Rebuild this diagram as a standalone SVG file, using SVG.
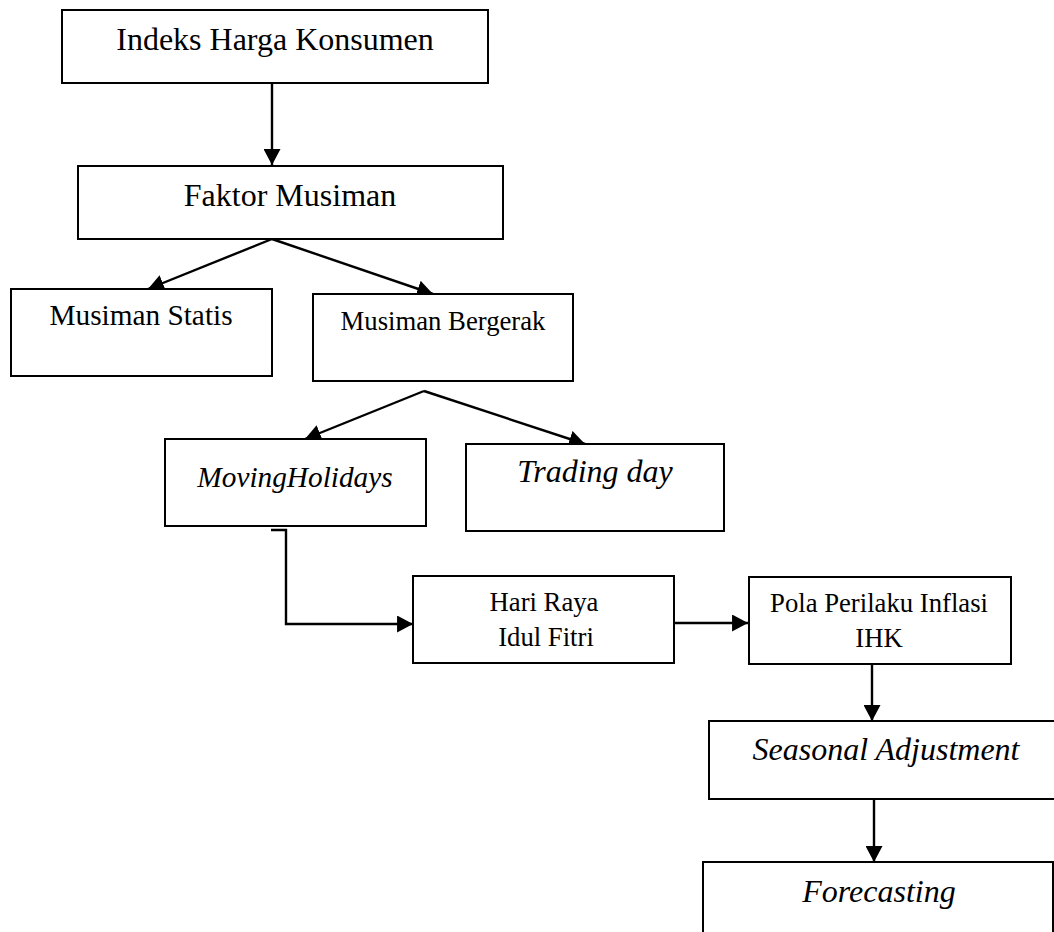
<svg xmlns="http://www.w3.org/2000/svg" width="1054" height="932" viewBox="0 0 1054 932">
<style>
.box{fill:#fff;stroke:#000;stroke-width:2}
.t{font-family:"Liberation Serif","Times New Roman",serif;fill:#000;text-anchor:middle}
.i{font-style:italic}
.c{fill:none;stroke:#000;stroke-width:2.4}
</style>
<defs>
<marker id="ah" markerUnits="userSpaceOnUse" markerWidth="17" markerHeight="17" refX="15" refY="8" orient="auto" viewBox="0 0 16 16">
<path d="M0,0 L15,8 L0,16 Z" fill="#000"/>
</marker>
</defs>
<rect width="1054" height="932" fill="#fff"/>
<g id="connectors">
<line class="c" x1="272" y1="83" x2="272" y2="165" marker-end="url(#ah)"/>
<line class="c" x1="272" y1="239" x2="148" y2="289" marker-end="url(#ah)"/>
<line class="c" x1="272" y1="239" x2="433" y2="294" marker-end="url(#ah)"/>
<line class="c" x1="424" y1="391" x2="305" y2="439" marker-end="url(#ah)"/>
<line class="c" x1="424" y1="391" x2="585" y2="444" marker-end="url(#ah)"/>
<polyline class="c" points="271,530 286,530 286,624 413,624" marker-end="url(#ah)"/>
<line class="c" x1="674" y1="623" x2="748" y2="623" marker-end="url(#ah)"/>
<line class="c" x1="872" y1="664" x2="872" y2="721" marker-end="url(#ah)"/>
<line class="c" x1="874" y1="799" x2="874" y2="862" marker-end="url(#ah)"/>
</g>
<g id="ihk">
<rect class="box" x="62" y="10" width="426" height="73"/>
<text class="t" x="275" y="50" font-size="32">Indeks Harga Konsumen</text>
</g>
<g id="faktor">
<rect class="box" x="78" y="166" width="425" height="73"/>
<text class="t" x="290" y="206" font-size="32">Faktor Musiman</text>
</g>
<g id="statis">
<rect class="box" x="11" y="289" width="261" height="87"/>
<text class="t" x="141" y="325" font-size="29.3">Musiman Statis</text>
</g>
<g id="bergerak">
<rect class="box" x="313" y="294" width="260" height="87"/>
<text class="t" x="443" y="330" font-size="26.7">Musiman Bergerak</text>
</g>
<g id="moving">
<rect class="box" x="165" y="439" width="261" height="87"/>
<text class="t i" x="295" y="487" font-size="29.3">MovingHolidays</text>
</g>
<g id="trading">
<rect class="box" x="466" y="444" width="258" height="87"/>
<text class="t i" x="595" y="482" font-size="32">Trading day</text>
</g>
<g id="hariraya">
<rect class="box" x="413" y="576" width="261" height="87"/>
<text class="t" x="544" y="611" font-size="26.7">Hari Raya</text>
<text class="t" x="546" y="646" font-size="26.7">Idul Fitri</text>
</g>
<g id="pola">
<rect class="box" x="749" y="577" width="262" height="87"/>
<text class="t" x="879" y="612" font-size="26.7">Pola Perilaku Inflasi</text>
<text class="t" x="879" y="647" font-size="26.7">IHK</text>
</g>
<g id="seasonal">
<rect class="box" x="709" y="721" width="354" height="78"/>
<text class="t i" x="886" y="760" font-size="32">Seasonal Adjustment</text>
</g>
<g id="forecasting">
<rect class="box" x="703" y="862" width="350" height="80"/>
<text class="t i" x="879" y="902" font-size="32">Forecasting</text>
</g>
</svg>
